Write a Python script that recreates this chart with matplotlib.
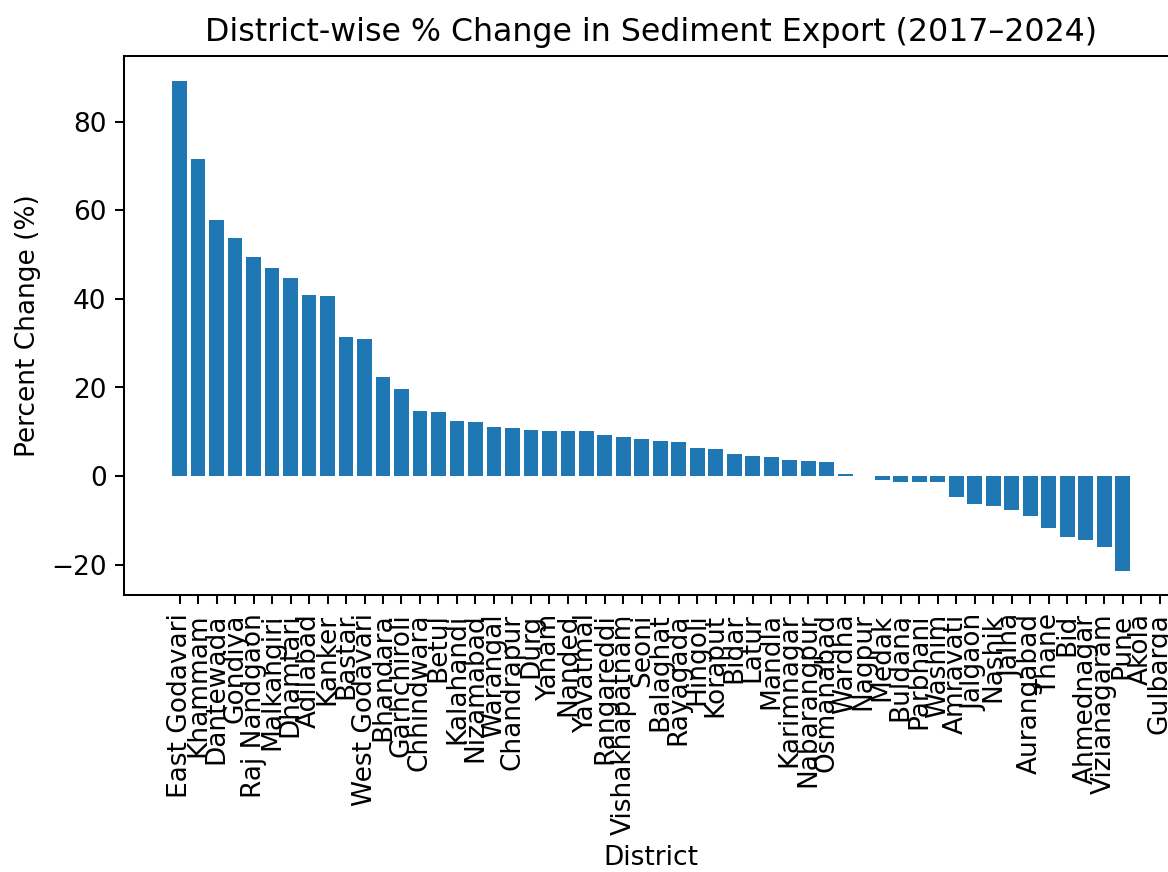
import numpy as np
import matplotlib
matplotlib.use("Agg")
import matplotlib.pyplot as plt

districts = [
    "East Godavari", "Khammam", "Dantewada", "Gondiya", "Raj Nandgaon",
    "Malkangiri", "Dhamtari", "Adilabad", "Kanker", "Bastar",
    "West Godavari", "Bhandara", "Garhchiroli", "Chhindwara", "Betul",
    "Kalahandi", "Nizamabad", "Warangal", "Chandrapur", "Durg",
    "Yanam", "Nanded", "Yavatmal", "Rangareddi", "Vishakhapatnam",
    "Seoni", "Balaghat", "Rayagada", "Hingoli", "Koraput",
    "Bidar", "Latur", "Mandla", "Karimnagar", "Nabarangpur",
    "Osmanabad", "Wardha", "Nagpur", "Medak", "Buldana",
    "Parbhani", "Washim", "Amravati", "Jalgaon", "Nashik",
    "Jalna", "Aurangabad", "Thane", "Bid", "Ahmednagar",
    "Vizianagaram", "Pune", "Akola", "Gulbarga",
]

pct_change = [
    89.2, 71.5, 57.7, 53.8, 49.4,
    46.9, 44.7, 40.8, 40.7, 31.3,
    30.9, 22.3, 19.7, 14.6, 14.5,
    12.4, 12.3, 11.0, 10.9, 10.5,
    10.2, 10.2, 10.1, 9.3, 8.8,
    8.4, 8.0, 7.6, 6.3, 6.2,
    5.0, 4.5, 4.4, 3.7, 3.3,
    3.2, 0.5, 0.0, -0.8, -1.3,
    -1.3, -1.3, -4.7, -6.3, -6.8,
    -7.7, -9.0, -11.6, -13.7, -14.5,
    -15.9, -21.4, np.nan, np.nan,
]

title = "District-wise % Change in Sediment Export (2017\u20132024)"

plt.rcParams["font.size"] = 10.4

DPI = 182.5
fig = plt.figure(figsize=(1168.2 / DPI, 872.2 / DPI), dpi=DPI)
ax = fig.add_axes([124.3 / 1168, 1 - 595.5 / 872, (1177.7 - 124.3) / 1168, (595.5 - 56.5) / 872])

x = np.arange(len(districts))
vals = np.array(pct_change, dtype=float)
ax.bar(x, vals, width=0.8, color="#1f77b4")

# x-limits follow the bars that have data (default 5% margins)
n_valid = int(np.isfinite(vals).sum())
lo, hi = -0.4, n_valid - 1 + 0.4
pad = 0.05 * (hi - lo)
ax.set_xlim(lo - pad, hi + pad)

ax.set_xticks(x)
ax.set_xticklabels(districts, rotation=90)
ax.set_title(title, fontsize=12.5)
ax.set_xlabel("District")
ax.set_ylabel("Percent Change (%)")

fig.savefig("out.png", dpi=DPI)
